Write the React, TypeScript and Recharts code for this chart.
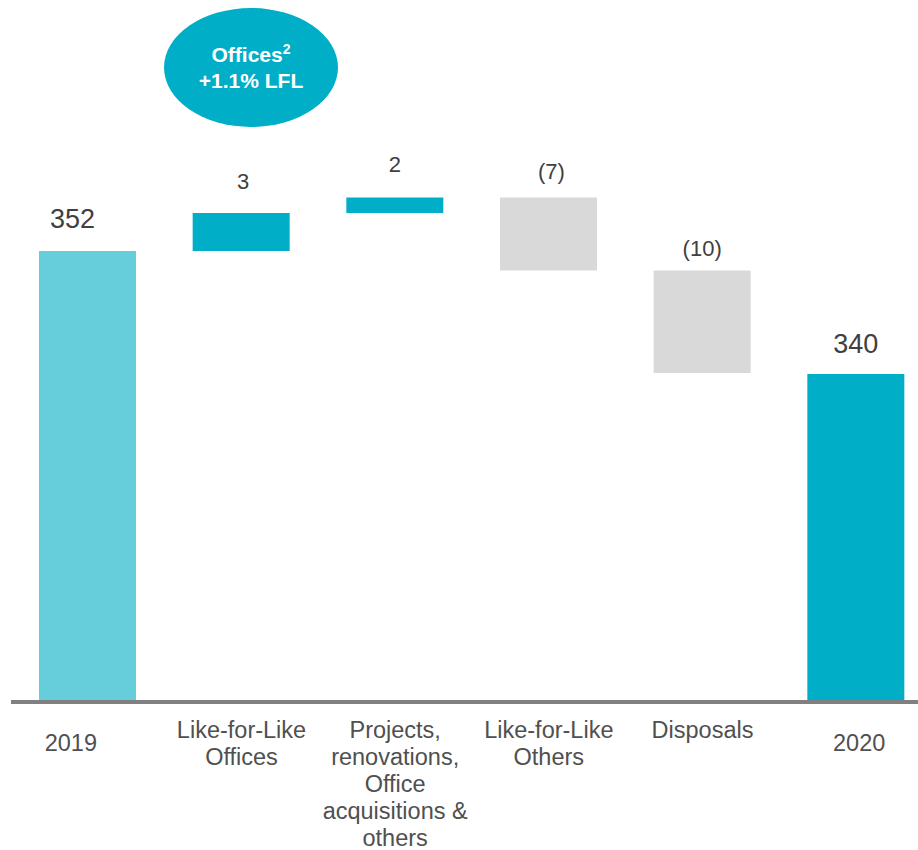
import React from 'react'
import { BarChart, Bar, XAxis, YAxis, Cell } from 'recharts'

const categories = [
  '2019',
  'Like-for-Like\nOffices',
  'Projects,\nrenovations,\nOffice\nacquisitions &\nothers',
  'Like-for-Like\nOthers',
  'Disposals',
  '2020',
]
const values = [352, 3.7, 1.5, -7.1, -10.0, 340]
const isTotal = [true, false, false, false, false, true]
const valueLabels = ['352', '3', '2', '(7)', '(10)', '340']
const yDomain = [308.2, 375.5]

// styling, kept apart from the data
const barColors = ['#66CEDB', '#00AEC7', '#00AEC7', '#D9D9D9', '#D9D9D9', '#00AEC7']
const labelDx = [-15, 2, 0, 3, 0, 0]
const labelGap = [23, 24, 26, 19, 14, 21]
const labelSize = [27, 22, 22, 22, 22, 27]
const tickDx = [-17, 0, 0, 0, 0, 3]
const FONT = "'Liberation Sans', Arial, sans-serif"

let running = 0
const rows = categories.map((name, i) => {
  const v = values[i]
  if (isTotal[i]) {
    running = v
    return { name, range: [yDomain[0], v] }
  }
  const start = running
  running += v
  return { name, range: [Math.min(start, running), Math.max(start, running)] }
})

const renderLabel = (props: any) => {
  const { x, y, width, height, index } = props
  const top = Math.min(y, y + height)
  return (
    <text
      x={x + width / 2 + labelDx[index]}
      y={top - labelGap[index]}
      textAnchor="middle"
      fill="#404040"
      fontSize={labelSize[index]}
      fontFamily={FONT}
    >
      {valueLabels[index]}
    </text>
  )
}

const CategoryTick = (props: any) => {
  const { x, y, payload, index } = props
  const lines = String(payload.value).split('\n')
  const first = lines.length === 1 && isTotal[index] ? 51 : 37.5
  return (
    <text
      x={x + tickDx[index]}
      y={y}
      textAnchor="middle"
      fill="#505050"
      fontSize={23.5}
      fontFamily={FONT}
    >
      {lines.map((l, i) => (
        <tspan key={i} x={x + tickDx[index]} y={y + first + i * 27}>
          {l}
        </tspan>
      ))}
    </text>
  )
}

export default function App() {
  return (
    <div
      style={{
        position: 'absolute',
        left: 0,
        top: 0,
        width: 918,
        height: 850,
        overflow: 'hidden',
        background: '#fff',
      }}
    >
      <BarChart
        width={940}
        height={850}
        data={rows}
        margin={{ top: 10, right: 7, bottom: 0, left: 11 }}
        style={{ overflow: 'visible' }}
      >
        <XAxis
          dataKey="name"
          height={150}
          interval={0}
          tickLine={false}
          tickSize={0}
          tickMargin={0}
          axisLine={{ stroke: '#808080', strokeWidth: 4, transform: 'translate(0,2)' }}
          tick={<CategoryTick />}
        />
        <YAxis hide domain={yDomain} allowDataOverflow />
        <Bar dataKey="range" barSize={97} isAnimationActive={false} label={renderLabel}>
          {rows.map((r, i) => (
            <Cell key={r.name} fill={barColors[i]} />
          ))}
        </Bar>
      </BarChart>
      <div
        style={{
          position: 'absolute',
          left: 164,
          top: 8,
          width: 174,
          height: 119,
          borderRadius: '50%',
          background: '#00AEC7',
          color: '#fff',
          fontFamily: FONT,
          fontWeight: 'bold',
          fontSize: 21,
          lineHeight: '26px',
          display: 'flex',
          flexDirection: 'column',
          alignItems: 'center',
          justifyContent: 'center',
        }}
      >
        <div>
          Offices<span style={{ fontSize: 14, verticalAlign: 'super', lineHeight: 0 }}>2</span>
        </div>
        <div>+1.1% LFL</div>
      </div>
    </div>
  )
}
